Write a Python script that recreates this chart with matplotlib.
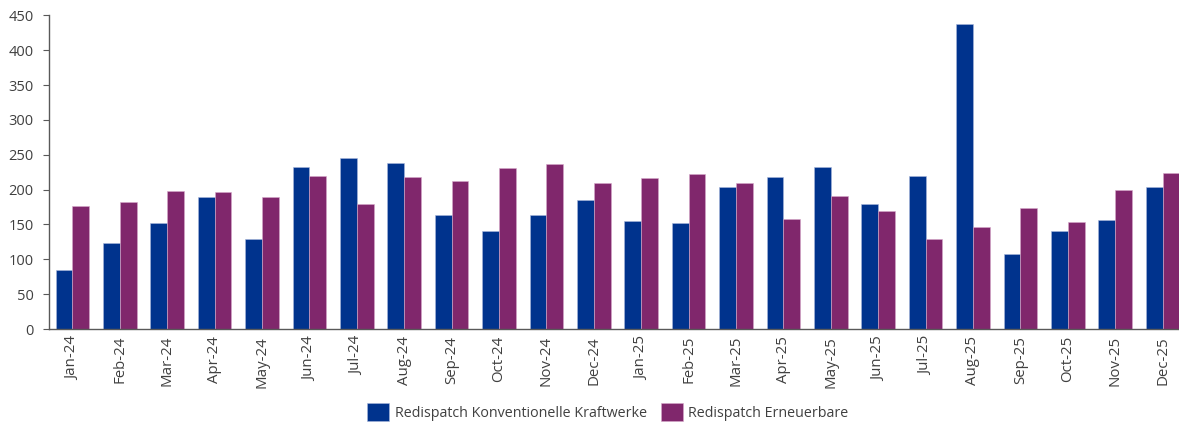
import matplotlib
matplotlib.use("Agg")
import matplotlib.pyplot as plt
import numpy as np

plt.rcParams['font.family'] = ['Open Sans', 'DejaVu Sans']

months = ["Jan-24", "Feb-24", "Mar-24", "Apr-24", "May-24", "Jun-24", "Jul-24", "Aug-24",
          "Sep-24", "Oct-24", "Nov-24", "Dec-24", "Jan-25", "Feb-25", "Mar-25", "Apr-25",
          "May-25", "Jun-25", "Jul-25", "Aug-25", "Sep-25", "Oct-25", "Nov-25", "Dec-25"]
konventionell = [84, 124, 152, 190, 129, 233, 245, 238,
                 163, 140, 163, 185, 155, 152, 204, 218,
                 233, 179, 220, 438, 108, 141, 156, 203]
erneuerbar = [177, 182, 198, 196, 190, 219, 180, 218,
              213, 231, 237, 209, 216, 223, 210, 158,
              191, 169, 129, 146, 173, 154, 200, 224]
series_names = ["Redispatch Konventionelle Kraftwerke", "Redispatch Erneuerbare"]
yticks = [0, 50, 100, 150, 200, 250, 300, 350, 400, 450]

W, H = 1179, 423
fig = plt.figure(figsize=(W / 100, H / 100), dpi=100)
left_px, right_px, top_px, bottom_px = 48.7, 48.7 + 24 * 47.4, 15.3, 329
ax = fig.add_axes([left_px / W, 1 - bottom_px / H,
                   (right_px - left_px) / W, (bottom_px - top_px) / H])

x = np.arange(len(months))
bw = 0.355
blue = "#00338D"
purple = "#80276C"
ax.bar(x - bw / 2, konventionell, width=bw, color=blue, label=series_names[0],
       edgecolor="#a9b8dc", linewidth=0.4)
ax.bar(x + bw / 2, erneuerbar, width=bw, color=purple, label=series_names[1],
       edgecolor="#d6a9c9", linewidth=0.4)

ax.set_xlim(-0.5, len(months) - 0.5)
ax.set_ylim(0, 450)
ax.set_yticks(yticks)
ax.set_xticks(x)
ax.set_xticklabels(months, rotation=90, fontsize=10.8, color="#404040")
ax.tick_params(axis='x', length=0, pad=5)
ax.tick_params(axis='y', length=4.3, width=0.8, color="#595959", labelsize=10.5,
               labelcolor="#404040", pad=6.5)

for s in ["top", "right"]:
    ax.spines[s].set_visible(False)
for s in ["left", "bottom"]:
    ax.spines[s].set_color("#595959")
    ax.spines[s].set_linewidth(1.0)

fig.legend(loc="center", bbox_to_anchor=(608 / W, 1 - 412 / H), ncol=2, frameon=False,
           fontsize=10.3, handlelength=1.5, handleheight=1.5, handletextpad=0.4,
           columnspacing=1.0, labelcolor="#404040")

fig.savefig("out.png", dpi=100)
